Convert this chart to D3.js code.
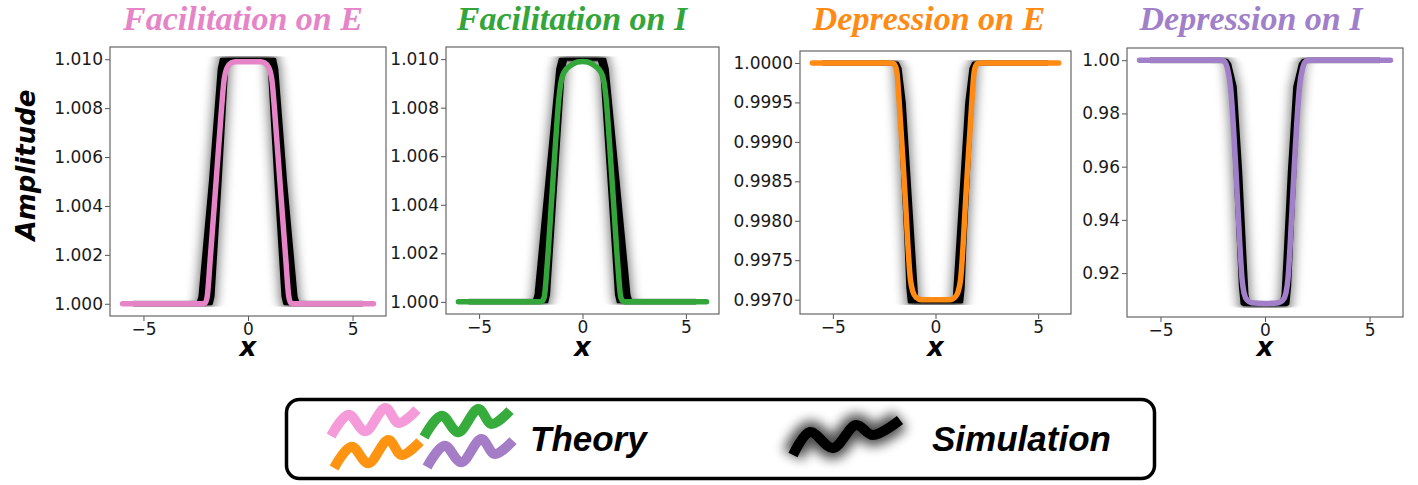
<!DOCTYPE html>
<html lang="en">

<head>
	<meta charset="UTF-8">
	<title>Amplitude profiles</title>

	<style>
		body { margin: 0; background: white; }
	</style>

	<script src="https://d3js.org/d3.v7.min.js"></script>

</head>

<body>

	<script type="text/javascript">
		const width = 1418
		const height = 485

//theory curves as [x, amplitude]
		const theoryFacE = [[-6, 1.0000], [-2.2, 1.0000], [-2.05, 1.00003], [-1.95, 1.0003], [-1.8, 1.0019], [-1.5, 1.0053], [-1.3, 1.0076], [-1.15, 1.0091], [-1.0, 1.00965], [-0.8, 1.00985], [-0.6, 1.0099], [0, 1.0099],
			[0.6, 1.0099], [0.8, 1.00985], [1.0, 1.00965], [1.15, 1.0091], [1.3, 1.0076], [1.5, 1.0053], [1.8, 1.0019], [1.95, 1.0003], [2.05, 1.00003], [2.2, 1.0000], [6, 1.0000]]
		const theoryFacI = [[-6, 1.0000], [-2.15, 1.0000], [-1.95, 1.00004], [-1.85, 1.0002], [-1.7, 1.0016], [-1.5, 1.0041], [-1.3, 1.0066], [-1.15, 1.0083], [-1.05, 1.0090], [-0.9, 1.00945], [-0.5, 1.00978], [-0.25, 1.00988], [0, 1.0099],
			[0.25, 1.00988], [0.5, 1.00978], [0.9, 1.00945], [1.05, 1.0090], [1.15, 1.0083], [1.3, 1.0066], [1.5, 1.0041], [1.7, 1.0016], [1.85, 1.0002], [1.95, 1.00004], [2.15, 1.0000], [6, 1.0000]]
		const theoryDepE = [[-6, 1.0000], [-2.15, 1.0000], [-2.0, 0.99998], [-1.88, 0.99988], [-1.78, 0.99955], [-1.5, 0.9984], [-1.22, 0.99725], [-1.1, 0.99710], [-0.95, 0.99703], [-0.7, 0.99700], [0, 0.99700],
			[0.7, 0.99700], [0.95, 0.99703], [1.1, 0.99710], [1.22, 0.99725], [1.5, 0.9984], [1.78, 0.99955], [1.88, 0.99988], [2.0, 0.99998], [2.15, 1.0000], [6, 1.0000]]
		const theoryDepI = [[-6, 1.000], [-2.1, 1.000], [-1.95, 0.9996], [-1.8, 0.997], [-1.65, 0.990], [-1.4, 0.960], [-1.2, 0.930], [-1.1, 0.918], [-1.0, 0.9125], [-0.85, 0.9098], [-0.65, 0.9089], [0, 0.9086],
			[0.65, 0.9089], [0.85, 0.9098], [1.0, 0.9125], [1.1, 0.918], [1.2, 0.930], [1.4, 0.960], [1.65, 0.990], [1.8, 0.997], [1.95, 0.9996], [2.1, 1.000], [6, 1.000]]

//simulation runs, the two edges of the bundle
		const simFacEOuter = [[-6, 1.0], [-2.4, 1.0], [-2.3, 1.0003], [-1.8, 1.005], [-1.38, 1.0096], [-1.28, 1.0100], [0, 1.0100], [1.28, 1.0100], [1.38, 1.0096], [1.8, 1.005], [2.3, 1.0003], [2.4, 1.0], [6, 1.0]]
		const simFacEInner = [[-6, 1.0], [-1.75, 1.0], [-1.67, 1.0003], [-1.33, 1.005], [-1.02, 1.0096], [-0.92, 1.0100], [0, 1.0100], [0.92, 1.0100], [1.02, 1.0096], [1.33, 1.005], [1.67, 1.0003], [1.75, 1.0], [6, 1.0]]
		const simFacIOuter = [[-6, 1.0], [-2.35, 1.0], [-2.25, 1.0003], [-1.72, 1.005], [-1.2, 1.0096], [-1.08, 1.0100], [0, 1.0100], [1.08, 1.0100], [1.2, 1.0096], [1.72, 1.005], [2.25, 1.0003], [2.35, 1.0], [6, 1.0]]
		const simFacIInner = [[-6, 1.0], [-1.72, 1.0], [-1.64, 1.0003], [-1.28, 1.005], [-0.92, 1.0096], [-0.8, 1.0100], [0, 1.0100], [0.8, 1.0100], [0.92, 1.0096], [1.28, 1.005], [1.64, 1.0003], [1.72, 1.0], [6, 1.0]]
		const simDepEA = [[-6, 1.0], [-1.85, 1.0], [-1.72, 0.99993], [-1.52, 0.9995], [-1.02, 0.99745], [-0.92, 0.99705], [-0.8, 0.99697], [0, 0.99697], [0.8, 0.99697], [0.92, 0.99705], [1.02, 0.99745], [1.52, 0.9995], [1.72, 0.99993], [1.85, 1.0], [6, 1.0]]
		const simDepEB = [[-6, 1.0], [-2.0, 1.0], [-1.9, 0.99993], [-1.7, 0.9991], [-1.45, 0.9978], [-1.35, 0.99715], [-1.28, 0.99697], [0, 0.99697], [1.28, 0.99697], [1.35, 0.99715], [1.45, 0.9978], [1.7, 0.9991], [1.9, 0.99993], [2.0, 1.0], [6, 1.0]]
		const simDepIA = [[-6, 1.0], [-1.82, 1.0], [-1.68, 0.9985], [-1.42, 0.990], [-1.16, 0.958], [-0.95, 0.925], [-0.86, 0.912], [-0.76, 0.9082], [0, 0.9082], [0.76, 0.9082], [0.86, 0.912], [0.95, 0.925], [1.16, 0.958], [1.42, 0.990], [1.68, 0.9985], [1.82, 1.0], [6, 1.0]]
		const simDepIB = [[-6, 1.0], [-1.85, 1.0], [-1.75, 0.997], [-1.55, 0.978], [-1.32, 0.940], [-1.18, 0.915], [-1.1, 0.9085], [-1.02, 0.9081], [0, 0.9081], [1.02, 0.9081], [1.1, 0.9085], [1.18, 0.915], [1.32, 0.940], [1.55, 0.978], [1.75, 0.997], [1.85, 1.0], [6, 1.0]]

		const panelTitles = ["Facilitation on E", "Facilitation on I", "Depression on E", "Depression on I"]
		const xTicks = [-5, 0, 5]
		const yTicksFac = [1.000, 1.002, 1.004, 1.006, 1.008, 1.010]
		const yTicksDepE = [0.9970, 0.9975, 0.9980, 0.9985, 0.9990, 0.9995, 1.0000]
		const yTicksDepI = [0.92, 0.94, 0.96, 0.98, 1.00]
		const legendLabels = ["Theory", "Simulation"]

//layout of the four subplots (left, top, right, bottom in px)
		const panels = [
			{ title: panelTitles[0], color: "#e584c7", theory: theoryFacE, sims: [simFacEOuter, simFacEInner], ticks: yTicksFac, fmt: ".3f", box: [110, 47, 386, 316], titleX: 243 },
			{ title: panelTitles[1], color: "#33a53a", theory: theoryFacI, sims: [simFacIOuter, simFacIInner], ticks: yTicksFac, fmt: ".3f", box: [446, 47, 719, 314], titleX: 572 },
			{ title: panelTitles[2], color: "#ff8a14", theory: theoryDepE, sims: [simDepEB, simDepEA], ticks: yTicksDepE, fmt: ".4f", box: [800, 51, 1071, 314], titleX: 929 },
			{ title: panelTitles[3], color: "#a17fc9", theory: theoryDepI, sims: [simDepIB, simDepIA], ticks: yTicksDepI, fmt: ".2f", box: [1127, 48, 1403, 317], titleX: 1251 }
		]

		const svg = d3.select("body").append("svg")
			.attr("width", width)
			.attr("height", height)
			.style("display", "block")

		const defs = svg.append("defs")

//horizontal-only blur: flats stay sharp, the steep flanks get the grey haze
		defs.append("filter")
			.attr("id", "hblur")
			.attr("filterUnits", "userSpaceOnUse")
			.attr("x", -width).attr("y", -height).attr("width", 3 * width).attr("height", 3 * height)
			.append("feGaussianBlur")
			.attr("stdDeviation", "6 0")

		defs.append("filter")
			.attr("id", "glow")
			.attr("filterUnits", "userSpaceOnUse")
			.attr("x", -width).attr("y", -height).attr("width", 3 * width).attr("height", 3 * height)
			.append("feGaussianBlur")
			.attr("stdDeviation", 6)

		panels.forEach(function(p, i) {
			const [left, top, right, bottom] = p.box

			const x = d3.scaleLinear()
				.domain([-6.6, 6.6])
				.range([left, right])

//matplotlib style 5% margin on the y range
			const all = p.theory.concat(...p.sims).map(d => d[1])
			const lo = d3.min(all), hi = d3.max(all)
			const pad = (hi - lo) * 0.05
			const y = d3.scaleLinear()
				.domain([lo - pad, hi + pad])
				.range([bottom, top])

			const line = d3.line()
				.x(d => x(d[0]))
				.y(d => y(d[1]))
				.curve(d3.curveMonotoneX)

//the bundle of runs: region between its two edges, outer edge forward then inner edge back
			const bandLine = d3.line()
				.x(d => x(d[0]))
				.y(d => y(d[1]))
			const band = p.sims[0].concat(p.sims[1].slice().reverse())

			defs.append("clipPath")
				.attr("id", "clip" + i)
				.append("rect")
				.attr("x", left).attr("y", top)
				.attr("width", right - left).attr("height", bottom - top)

//haze is kept off the ends of the flat tails
			defs.append("clipPath")
				.attr("id", "hclip" + i)
				.append("rect")
				.attr("x", x(-5.5)).attr("y", top)
				.attr("width", x(5.5) - x(-5.5)).attr("height", bottom - top)

			const g = svg.append("g")
			const plot = g.append("g").attr("clip-path", "url(#clip" + i + ")")

			plot.append("g")
				.attr("clip-path", "url(#hclip" + i + ")")
				.append("path")
				.attr("d", bandLine(band) + "Z")
				.attr("fill", "black")
				.attr("stroke", "black")
				.attr("stroke-width", 6)
				.attr("stroke-linejoin", "round")
				.attr("opacity", 0.55)
				.attr("filter", "url(#hblur)")

			plot.append("path")
				.attr("d", bandLine(band) + "Z")
				.attr("fill", "black")
				.attr("stroke", "black")
				.attr("stroke-width", 3)
				.attr("stroke-linejoin", "round")

			plot.append("path")
				.datum(p.theory)
				.attr("d", line)
				.attr("fill", "none")
				.attr("stroke", p.color)
				.attr("stroke-width", 5.5)
				.attr("stroke-linecap", "round")
				.attr("stroke-linejoin", "round")

//axes
			g.append("g")
				.attr("transform", "translate(" + left + ",0)")
				.call(d3.axisLeft(y).tickValues(p.ticks).tickFormat(d3.format(p.fmt)).tickSize(5).tickPadding(2))
			g.append("g")
				.attr("transform", "translate(0," + bottom + ")")
				.call(d3.axisBottom(x).tickValues(xTicks).tickFormat(d3.format("d")).tickSize(5).tickPadding(2))

			g.selectAll(".domain").remove()
			g.selectAll(".tick line").attr("stroke", "#555")
			g.selectAll(".tick text")
				.attr("fill", "#1a1a1a")
				.style("font-family", "DejaVu Sans")
				.style("font-size", "17px")

			g.append("rect")
				.attr("x", left).attr("y", top)
				.attr("width", right - left).attr("height", bottom - top)
				.attr("fill", "none")
				.attr("stroke", "#666")
				.attr("stroke-width", 1.2)

			g.append("text")
				.attr("x", p.titleX)
				.attr("y", 30)
				.attr("text-anchor", "middle")
				.style("font-family", "Liberation Serif")
				.style("font-weight", "bold")
				.style("font-style", "italic")
				.style("font-size", "34px")
				.attr("fill", p.color)
				.text(p.title)

			g.append("text")
				.attr("x", (left + right) / 2)
				.attr("y", 356)
				.attr("text-anchor", "middle")
				.style("font-family", "DejaVu Sans")
				.style("font-weight", "bold")
				.style("font-style", "italic")
				.style("font-size", "26px")
				.attr("fill", "black")
				.text("x")
		})

		svg.append("text")
			.attr("transform", "translate(35,165) rotate(-90)")
			.attr("text-anchor", "middle")
			.style("font-family", "DejaVu Sans")
			.style("font-weight", "bold")
			.style("font-style", "italic")
			.style("font-size", "26px")
			.text("Amplitude")

//legend box with the wiggly line glyphs
		const legend = svg.append("g")
		legend.append("rect")
			.attr("x", 286.5).attr("y", 399.5)
			.attr("width", 868).attr("height", 79)
			.attr("rx", 13)
			.attr("fill", "white")
			.attr("stroke", "black")
			.attr("stroke-width", 3.5)

		const wiggle = d3.line().curve(d3.curveCatmullRom.alpha(0.5))
		const colourWiggle = [[0, 0], [17.6, -21.3], [34.3, -4.7], [54.3, -28], [67.6, -13], [86, -26.3]]
		const blackWiggle = [[0, 0], [17, -23], [40, -7], [63, -30], [80, -20], [107, -35]]

		const wiggles = [
			{ at: [331, 436], color: "#f59bd9" },
			{ at: [424, 437], color: "#36ac3c" },
			{ at: [334, 468], color: "#ff9412" },
			{ at: [427, 467], color: "#a57dc6" }
		]

		legend.selectAll(".wig")
			.data(wiggles)
			.join("path")
			.attr("class", "wig")
			.attr("transform", d => "translate(" + d.at[0] + "," + d.at[1] + ")")
			.attr("d", wiggle(colourWiggle))
			.attr("fill", "none")
			.attr("stroke", d => d.color)
			.attr("stroke-width", 10)

		const simGlyph = legend.append("g")
			.attr("transform", "translate(793,455)")
		simGlyph.append("path")
			.attr("d", wiggle(blackWiggle))
			.attr("fill", "none")
			.attr("stroke", "black")
			.attr("stroke-width", 22)
			.attr("opacity", 0.7)
			.attr("filter", "url(#glow)")
		simGlyph.append("path")
			.attr("d", wiggle(blackWiggle))
			.attr("fill", "none")
			.attr("stroke", "black")
			.attr("stroke-width", 10)

		legend.selectAll(".lab")
			.data(legendLabels)
			.join("text")
			.attr("class", "lab")
			.attr("x", (d, i) => i == 0 ? 530 : 932)
			.attr("y", 451)
			.style("font-family", "Liberation Sans")
			.style("font-weight", "bold")
			.style("font-style", "italic")
			.style("font-size", "35px")
			.text(d => d)
	</script>

</body>

</html>
